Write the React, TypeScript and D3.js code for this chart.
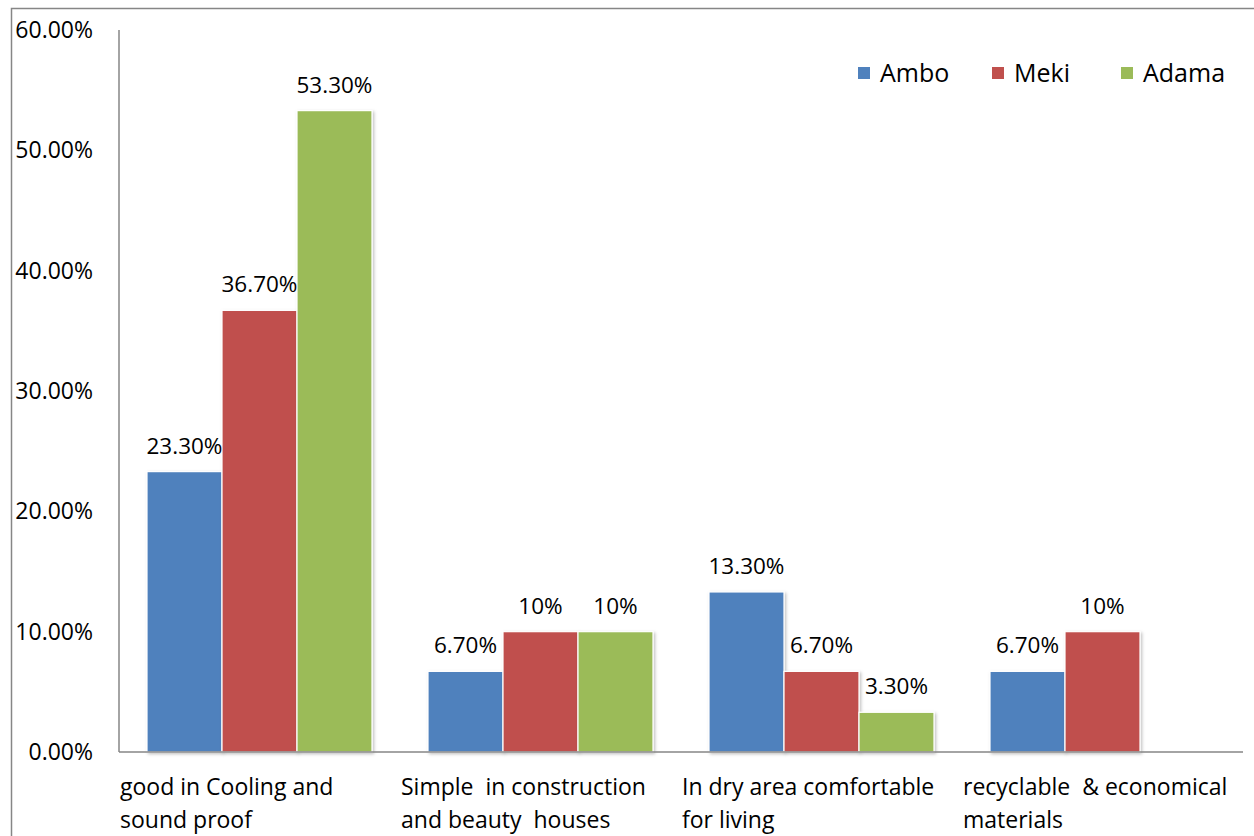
import React from "react";
import * as d3 from "d3";

const categories: string[][] = [
  ["good in Cooling and", "sound proof"],
  ["Simple  in construction", "and beauty  houses"],
  ["In dry area comfortable", "for living"],
  ["recyclable  & economical", "materials"],
];
const seriesNames = ["Ambo", "Meki", "Adama"];
const ambo = [23.3, 6.7, 13.3, 6.7];
const meki = [36.7, 10, 6.7, 10];
const adama = [53.3, 10, 3.3, 0];
const amboLabels = ["23.30%", "6.70%", "13.30%", "6.70%"];
const mekiLabels = ["36.70%", "10%", "6.70%", "10%"];
const adamaLabels = ["53.30%", "10%", "3.30%", ""];
const yTicks = [0, 10, 20, 30, 40, 50, 60];
const colors = ["#4F81BD", "#C0504D", "#9BBB59"];

const W = 1254;
const H = 836;
const FONT = "'Open Sans', sans-serif";

export default function App() {
  const left = 119;
  const right = 1243;
  const top = 30;
  const bottom = 752;
  const y = d3.scaleLinear().domain([0, 60]).range([bottom, top]);
  const x0 = d3
    .scaleBand<number>()
    .domain(d3.range(categories.length))
    .range([left, right])
    .paddingInner(0)
    .paddingOuter(0);
  const x1 = d3
    .scaleBand<number>()
    .domain(d3.range(3))
    .range([28, x0.bandwidth() - 28])
    .padding(0);
  const values = [ambo, meki, adama];
  const labels = [amboLabels, mekiLabels, adamaLabels];

  return (
    <svg width={W} height={H} style={{ position: "absolute", left: 0, top: 0, background: "#fff" }}>
      <defs>
        <filter id="sh" x="-20%" y="-20%" width="140%" height="140%">
          <feDropShadow dx="1.5" dy="1.5" stdDeviation="1.5" floodColor="#000" floodOpacity="0.25" />
        </filter>
      </defs>
      <rect x={11.5} y={8.5} width={W + 10} height={H + 10} fill="#fff" stroke="#868686" strokeWidth={1.5} />
      {/* bars */}
      {categories.map((c, i) =>
        values.map((vals, s) =>
          vals[i] > 0 ? (
            <rect
              key={`b${i}-${s}`}
              x={x0(i)! + x1(s)!}
              y={y(vals[i])}
              width={x1.bandwidth()}
              height={bottom - y(vals[i])}
              fill={colors[s]}
              stroke="#fff"
              strokeWidth={1.2}
              filter="url(#sh)"
            />
          ) : null
        )
      )}
      {/* axes */}
      <line x1={left} x2={left} y1={top} y2={bottom} stroke="#868686" strokeWidth={1.5} />
      <line x1={left} x2={right} y1={bottom} y2={bottom} stroke="#868686" strokeWidth={1.5} />
      {yTicks.map((t) => (
        <text
          key={`t${t}`}
          x={93}
          y={y(t)}
          dy="0.35em"
          textAnchor="end"
          fontFamily={FONT}
          fontSize={23}
          fill="#000"
        >
          {t.toFixed(2) + "%"}
        </text>
      ))}
      {/* data labels */}
      {categories.map((c, i) =>
        labels.map((labs, s) =>
          labs[i] ? (
            <text
              key={`l${i}-${s}`}
              x={x0(i)! + x1(s)! + x1.bandwidth() / 2}
              y={y(values[s][i]) - 18}
              textAnchor="middle"
              fontFamily={FONT}
              fontSize={22.5}
              fill="#000"
            >
              {labs[i]}
            </text>
          ) : null
        )
      )}
      {/* category labels */}
      {categories.map((lines, i) => (
        <text
          key={`c${i}`}
          x={x0(i)! + 1}
          y={795}
          fontFamily={FONT}
          fontSize={23}
          fill="#000"
          style={{ whiteSpace: "pre" }}
        >
          {lines.map((ln, k) => (
            <tspan key={k} x={x0(i)! + 1} dy={k === 0 ? 0 : 33}>
              {ln}
            </tspan>
          ))}
        </text>
      ))}
      {/* legend */}
      {seriesNames.map((n, s) => {
        const lx = [858, 992, 1121][s];
        return (
          <g key={n}>
            <rect x={lx} y={67} width={12} height={12} fill={colors[s]} />
            <text x={lx + 22} y={73} dy="0.35em" fontFamily={FONT} fontSize={25} fill="#000">
              {n}
            </text>
          </g>
        );
      })}
    </svg>
  );
}
